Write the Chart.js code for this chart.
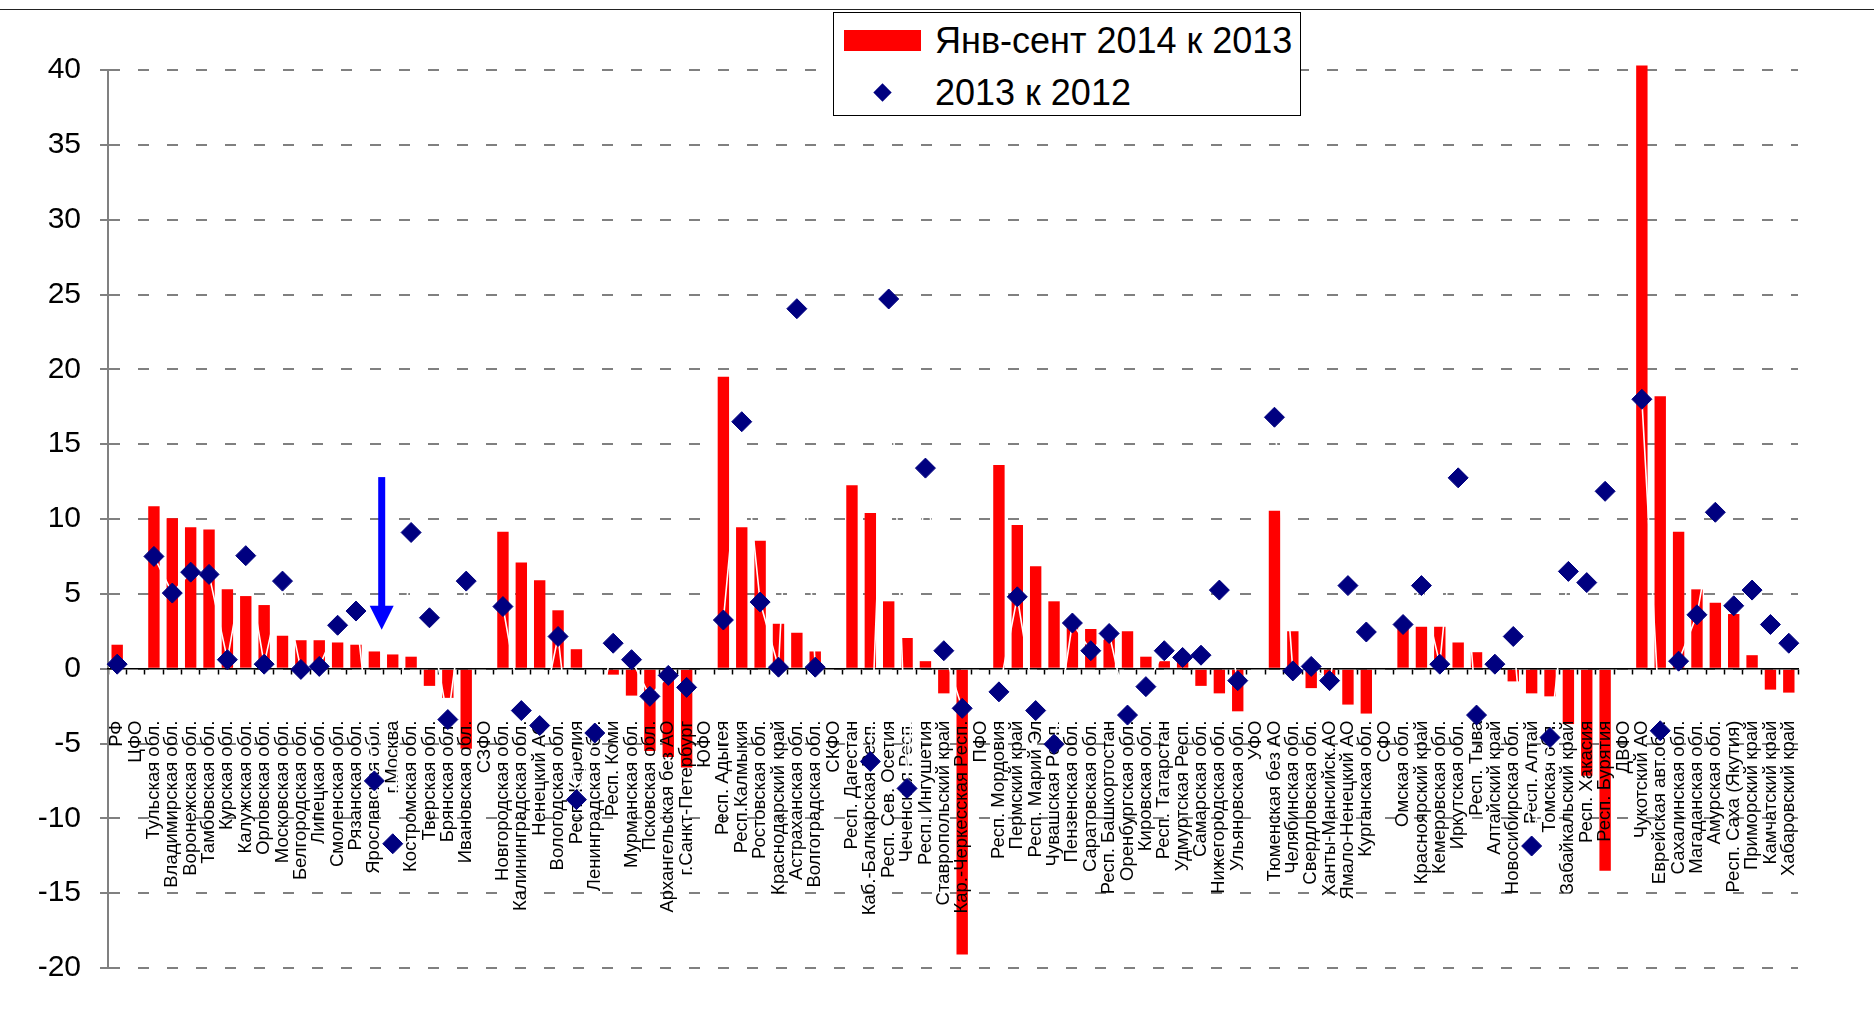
<!DOCTYPE html>
<html>
<head>
<meta charset="utf-8">
<script src="https://cdn.jsdelivr.net/npm/chart.js@4/dist/chart.umd.min.js"></script>
<style>
  html, body { margin: 0; padding: 0; background: #fff; }
  #wrap { position: relative; width: 1874px; height: 1021px; overflow: hidden; background: #fff; }
  #chart { position: absolute; left: 0; top: 0; }
  #frame { position: absolute; left: 0; top: 9px; width: 1874px; height: 0; border-top: 1px solid #222; }
  #legend { position: absolute; left: 833px; top: 12px; width: 468px; height: 104px; box-sizing: border-box;
            border: 1px solid #000; background: #fff; font-family: "Liberation Sans", Arial, sans-serif;
            font-size: 36px; color: #000; }
  .lg-item { position: absolute; left: 0; height: 44px; width: 100%; }
  .lg-text { position: absolute; left: 101px; top: 0; line-height: 44px; white-space: nowrap; }
  .lg-rect { position: absolute; left: 10px; top: 11px; width: 77px; height: 21px; }
  .lg-diamond { position: absolute; left: 42px; top: 15px; width: 13px; height: 13px; transform: rotate(45deg); }
</style>
</head>
<body>
<div id="wrap">
  <canvas id="chart" width="1874" height="1021"></canvas>
  <div id="frame"></div>
  <div id="legend"></div>
</div>
<script>
// ---- data ----
const categories = [
  "РФ", "ЦФО", "Тульская обл.", "Владимирская обл.", "Воронежская обл.", "Тамбовская обл.",
  "Курская обл.", "Калужская обл.", "Орловская обл.", "Московская обл.", "Белгородская обл.",
  "Липецкая обл.", "Смоленская обл.", "Рязанская обл.", "Ярославская обл.", "г.Москва",
  "Костромская обл.", "Тверская обл.", "Брянская обл.", "Ивановская обл.", "СЗФО",
  "Новгородская обл.", "Калининградская обл.", "Ненецкий АО", "Вологодская обл.", "Респ. Карелия",
  "Ленинградская обл.", "Респ. Коми", "Мурманская обл.", "Псковская обл.", "Архангельская без АО",
  "г.Санкт-Петербург", "ЮФО", "Респ. Адыгея", "Респ.Калмыкия", "Ростовская обл.",
  "Краснодарский край", "Астраханская обл.", "Волгоградская обл.", "СКФО", "Респ. Дагестан",
  "Каб.-Балкарская Респ.", "Респ. Сев. Осетия", "Чеченская Респ.", "Респ. Ингушетия",
  "Ставропольский край", "Кар.-Черкесская Респ.", "ПФО", "Респ. Мордовия", "Пермский край",
  "Респ. Марий Эл", "Чувашская Респ.", "Пензенская обл.", "Саратовская обл.", "Респ. Башкортостан",
  "Оренбургская обл.", "Кировская обл.", "Респ. Татарстан", "Удмуртская Респ.", "Самарская обл.",
  "Нижегородская обл.", "Ульяновская обл.", "УФО", "Тюменская без АО", "Челябинская обл.",
  "Свердловская обл.", "Ханты-Мансийск.АО", "Ямало-Ненецкий АО", "Курганская обл.", "СФО",
  "Омская обл.", "Красноярский край", "Кемеровская обл.", "Иркутская обл.", "Респ. Тыва",
  "Алтайский край", "Новосибирская обл.", "Респ. Алтай", "Томская обл.", "Забайкальский край",
  "Респ. Хакасия", "Респ. Бурятия", "ДВФО", "Чукотский АО", "Еврейская авт.обл.",
  "Сахалинская обл.", "Магаданская обл.", "Амурская обл.", "Респ. Саха (Якутия)",
  "Приморский край", "Камчатский край", "Хабаровский край"
];

const seriesNames = ["Янв-сент 2014 к 2013", "2013 к 2012"];

const jan_sep2014_vs_2013 = [
  1.6, null, 10.85, 10.05, 9.45, 9.3,
  5.3, 4.85, 4.25, 2.2, 1.9,
  1.9, 1.75, 1.6, 1.15, 0.95,
  0.8, -1.15, -1.95, -5.35, null,
  9.15, 7.1, 5.9, 3.9, 1.3,
  0, -0.4, -1.8, -5.5, -5.9,
  -6.6, null, 19.5, 9.45, 8.55,
  3.0, 2.4, 1.15, null, 12.25,
  10.4, 4.5, 2.05, 0.5,
  -1.65, -19.1, null, 13.6, 9.6,
  6.85, 4.5, 2.9, 2.65, 2.1,
  2.5, 0.8, 0.5, 0.5, -1.15,
  -1.65, -2.85, null, 10.55, 2.5,
  -1.3, -0.9, -2.4, -3.0, null,
  2.8, 2.8, 2.8, 1.75, 1.1,
  0.2, -0.85, -1.65, -1.85, -3.7,
  -7.15, -13.5, null, 40.3, 18.2,
  9.15, 5.3, 4.4, 3.65,
  0.9, -1.4, -1.6
];

const y2013_vs_2012 = [
  0.3, null, 7.5, 5.05, 6.45, 6.3,
  0.6, 7.55, 0.3, 5.85, -0.05,
  0.15, 2.9, 3.85, -7.5, -11.7,
  9.1, 3.4, -3.4, 5.85, null,
  4.15, -2.8, -3.8, 2.15, -8.75,
  -4.3, 1.7, 0.6, -1.85, -0.45,
  -1.25, null, 3.25, 16.5, 4.45,
  0.1, 24.05, 0.1, null, null,
  -6.2, 24.7, -8.0, 13.4,
  1.2, -2.65, null, -1.55, 4.8,
  -2.8, -5.05, 3.05, 1.2, 2.35,
  -3.1, -1.2, 1.2, 0.75, 0.9,
  5.25, -0.8, null, 16.8, -0.15,
  0.15, -0.8, 5.55, 2.45, null,
  2.95, 5.55, 0.3, 12.75, -3.1,
  0.3, 2.15, -11.85, -4.6, 6.5,
  5.75, 11.85, null, 18.0, -4.15,
  0.5, 3.6, 10.45, 4.2,
  5.25, 2.95, 1.7
];

const yTickMin = -20;
const yTickMax = 40;
const yTickStep = 5;

// annotation arrow (category index, value from, value to)
const arrowCategory = 14.4;
const arrowFrom = 12.8;
const arrowTo = 2.6;

// ---- style ----
const FONT = '"Liberation Sans", Arial, sans-serif';
const RED = '#FF0000';
const NAVY = '#000080';

const drawOrderPlugin = {
  id: 'drawOrder',
  afterUpdate(chart) {
    const xs = chart.scales.x;
    if (!xs._patchedOrder) {
      const origLabels = xs.drawLabels;
      const origBorder = xs.drawBorder;
      xs.drawLabels = function (area) { if (chart._xPass) origLabels.call(this, area); };
      xs.drawBorder = function () { if (chart._xPass) origBorder.call(this); };
      xs._patchedOrder = true;
    }
  },
  afterDatasetDraw(chart, args) {
    if (args.meta.type === 'bar') {
      const xs = chart.scales.x;
      chart._xPass = true;
      xs.drawBorder();
      xs.drawLabels(chart.chartArea);
      chart._xPass = false;
    }
  }
};

const arrowPlugin = {
  id: 'arrow',
  afterDatasetsDraw(chart) {
    const ctx = chart.ctx;
    const xs = chart.scales.x, ys = chart.scales.y;
    const x = xs.getPixelForValue(arrowCategory);
    const yTop = ys.getPixelForValue(arrowFrom);
    const yTip = ys.getPixelForValue(arrowTo);
    const headH = 24, headW = 24, shaftW = 7;
    ctx.save();
    ctx.fillStyle = '#0000FF';
    ctx.fillRect(x - shaftW / 2, yTop, shaftW, (yTip - headH) - yTop + 1);
    ctx.beginPath();
    ctx.moveTo(x - headW / 2, yTip - headH);
    ctx.lineTo(x + headW / 2, yTip - headH);
    ctx.lineTo(x, yTip);
    ctx.closePath();
    ctx.fill();
    ctx.restore();
  }
};

const chart = new Chart(document.getElementById('chart'), {
  data: {
    labels: categories,
    datasets: [
      {
        type: 'bar',
        label: seriesNames[0],
        data: jan_sep2014_vs_2013,
        backgroundColor: RED,
        borderWidth: 0,
        barPercentage: 0.62,
        categoryPercentage: 1.0,
        order: 2,
        clip: false
      },
      {
        type: 'line',
        label: seriesNames[1],
        data: y2013_vs_2012,
        borderColor: '#FFFFFF',
        borderWidth: 1.6,
        tension: 0,
        spanGaps: false,
        pointStyle: 'rectRot',
        pointRadius: 10,
        pointBackgroundColor: NAVY,
        pointBorderColor: NAVY,
        pointBorderWidth: 1,
        order: 1,
        clip: false
      }
    ]
  },
  options: {
    responsive: false,
    maintainAspectRatio: false,
    animation: false,
    devicePixelRatio: 1,
    events: [],
    layout: { padding: { top: 70, right: 76, bottom: 53, left: 0 } },
    plugins: {
      legend: { display: false },
      tooltip: { enabled: false },
      title: { display: false }
    },
    scales: {
      x: {
        type: 'category',
        position: { y: 0 },
        offset: true,
        grid: {
          offset: true,
          drawOnChartArea: false,
          drawTicks: true,
          tickLength: 5,
          color: '#000',
          tickColor: '#000',
          tickWidth: 1.5
        },
        border: { display: true, color: '#000', width: 1.5 },
        ticks: {
          autoSkip: false,
          maxRotation: 90,
          minRotation: 90,
          padding: 47,
          color: '#000',
          font: { family: FONT, size: 18.5 }
        }
      },
      y: {
        type: 'linear',
        position: 'left',
        min: yTickMin,
        max: yTickMax,
        afterFit(scale) { scale.width = 108; },
        ticks: {
          stepSize: yTickStep,
          padding: 19,
          color: '#000',
          font: { family: FONT, size: 30 }
        },
        grid: {
          color: '#808080',
          lineWidth: 2,
          drawTicks: true,
          tickLength: 8,
          tickColor: '#808080',
          tickWidth: 2
        },
        border: { display: true, color: '#808080', width: 2, dash: [11, 18], dashOffset: 0 }
      }
    }
  },
  plugins: [drawOrderPlugin, arrowPlugin]
});

// ---- HTML legend built from the datasets ----
(function buildLegend() {
  const el = document.getElementById('legend');
  const rowTops = [6, 58];
  chart.data.datasets.forEach((ds, i) => {
    const row = document.createElement('div');
    row.className = 'lg-item';
    row.style.top = rowTops[i] + 'px';
    const mk = document.createElement('div');
    if (ds.type === 'bar') {
      mk.className = 'lg-rect';
      mk.style.background = ds.backgroundColor;
    } else {
      mk.className = 'lg-diamond';
      mk.style.background = ds.pointBackgroundColor;
    }
    const tx = document.createElement('span');
    tx.className = 'lg-text';
    tx.textContent = ds.label;
    row.appendChild(mk);
    row.appendChild(tx);
    el.appendChild(row);
  });
})();
</script>
</body>
</html>
